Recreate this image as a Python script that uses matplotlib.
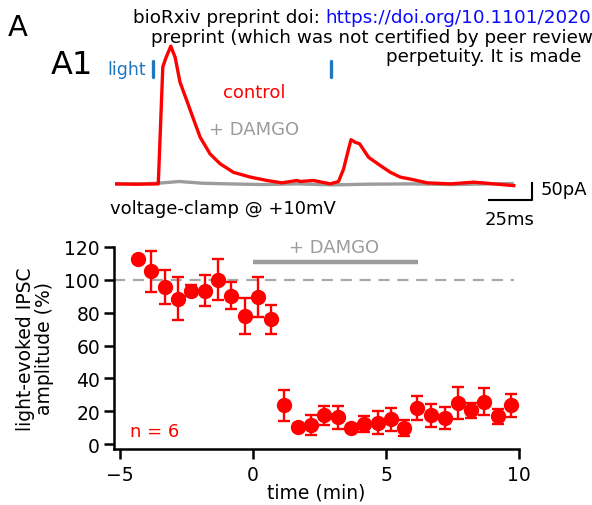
import matplotlib.pyplot as plt
import numpy as np

plt.rcParams['font.family'] = ['DejaVu Sans']

RED = '#ff0000'
GRAY = '#9c9c9c'
BLUE = '#1f77c0'

# --- trace data (ms, pA) ---
ctrl_t = [0, 12, 24.9, 27.5, 29.4, 32.1, 34.6, 37.4, 41.3, 45.1, 49.0, 54.7, 60.5,
          68.1, 77.8, 87.4, 96.0, 104.7, 106.6, 114.2, 123.8, 128.6, 131.5, 134.4,
          135.8, 138.2, 140.7, 145.9, 152.6, 158.4, 164.1, 171.8, 179.5, 193,
          206.4, 217.9, 229.4]
ctrl_i = [0, -1, 0, 344, 372, 405, 372, 299, 245, 191, 137, 88, 59,
          34, 20, 10, 3, 10, 7, 10, 0, 7, 44, 103,
          130, 122, 118, 78, 54, 34, 20, 12, 3, 0,
          5, 0, -5]
damgo_t = [0, 15, 25, 37, 50, 65, 85, 105, 125, 145, 170, 195, 215, 229.4]
damgo_i = [0, 0, 2, 7, 2, 0, -2, 0, -3, -1, 0, -2, 0, 1]
light_t = [21.7, 124.4]

# --- time course data ---
tmin = [-4.34, -3.82, -3.33, -2.82, -2.32, -1.82, -1.33, -0.82, -0.30, 0.20, 0.69,
        1.17, 1.69, 2.19, 2.68, 3.18, 3.67, 4.19, 4.68, 5.17, 5.68, 6.18, 6.69,
        7.20, 7.69, 8.20, 8.70, 9.21, 9.71]
amp = [112.4, 105.2, 95.6, 88.4, 93.5, 93.3, 100.1, 90.3, 78.2, 89.4, 75.9,
       23.6, 10.3, 11.5, 17.4, 16.2, 9.8, 12.3, 12.9, 15.0, 9.8, 21.9, 17.4,
       16.0, 25.0, 20.5, 25.8, 17.0, 23.6]
err = [1.5, 12.3, 10.6, 13.1, 3.5, 9.4, 12.6, 8.2, 11.0, 12.3, 8.8,
       9.6, 2.0, 6.0, 6.0, 7.0, 2.0, 5.0, 7.0, 7.0, 5.0, 7.3, 6.8,
       6.8, 9.6, 4.5, 8.2, 4.5, 7.0]

fig = plt.figure(figsize=(5.92, 5.06), dpi=100)
W, H = 592, 506

def px_axes(l, t, r, b):
    return fig.add_axes([l / W, 1 - b / H, (r - l) / W, (b - t) / H])

# ---------- header texts ----------
fig.text(8 / W, 1 - 28 / H, 'A', fontsize=21, va='center')
fig.text(51 / W, 1 - 65 / H, 'A1', fontsize=23, va='center')
t1 = fig.text(133 / W, 1 - 18 / H, 'bioRxiv preprint doi: ', fontsize=13.2, va='center')
fig.canvas.draw()
bb = t1.get_window_extent()
fig.text(bb.x1 / W, 1 - 18 / H, 'https://doi.org/10.1101/2020', fontsize=13.2,
         va='center', color='#0a0aff')
fig.text(372 / W, 1 - 38 / H, 'preprint (which was not certified by peer review',
         fontsize=13.2, va='center', ha='center')
fig.text(484 / W, 1 - 57 / H, 'perpetuity. It is made',
         fontsize=13.2, va='center', ha='center')

# ---------- traces ----------
ax1 = px_axes(115, 40, 560, 225)
ax1.set_xlim(0, 256)
ax1.set_ylim(-118, 426)
ax1.axis('off')
ax1.plot(damgo_t, damgo_i, color=GRAY, lw=2.4, solid_capstyle='butt')
ax1.plot(ctrl_t, ctrl_i, color=RED, lw=2.4, solid_joinstyle='round')
for lt in light_t:
    ax1.plot([lt, lt], [315, 362], color=BLUE, lw=2.4, solid_capstyle='round')
ax1.text(17.9, 338, 'light', color=BLUE, fontsize=12.5, ha='right', va='center')
ax1.text(80, 270, 'control', color=RED, fontsize=13, ha='center', va='center')
ax1.text(80, 162, '+ DAMGO', color=GRAY, fontsize=13, ha='center', va='center')
ax1.text(62, -70, 'voltage-clamp @ +10mV', fontsize=13, ha='center', va='center')
# scale bars
ax1.plot([215, 240, 240], [-47, -47, 3], color='k', lw=1.5, clip_on=False)
ax1.text(245, -15, '50pA', fontsize=13, ha='left', va='center', clip_on=False)
ax1.text(227, -103, '25ms', fontsize=13, ha='center', va='center', clip_on=False)

# ---------- time course ----------
ax2 = px_axes(114, 248, 519, 450)
ax2.set_xlim(-5.23, 10)
ax2.set_ylim(-3, 120)
ax2.hlines(100, -5.23, 9.8, color='#a8a8a8', lw=1.6, linestyles=(0, (5, 3.5)))
ax2.errorbar(tmin, amp, yerr=err, fmt='o', color=RED, ms=10, elinewidth=1.7,
             capsize=4.5, capthick=1.7, clip_on=False, zorder=3)
ax2.plot([0, 6.2], [111, 111], color=GRAY, lw=3.2, solid_capstyle='butt', clip_on=False)
ax2.text(3.05, 119.7, '+ DAMGO', color=GRAY, fontsize=13, ha='center', va='center')
ax2.text(-4.62, 8, 'n = 6', color=RED, fontsize=13, ha='left', va='center')

for s in ['top', 'right']:
    ax2.spines[s].set_visible(False)
for s in ['left', 'bottom']:
    ax2.spines[s].set_linewidth(1.8)
ax2.set_xticks([-5, 0, 5, 10])
ax2.set_yticks([0, 20, 40, 60, 80, 100, 120])
ax2.tick_params(direction='out', length=7.5, width=1.8, labelsize=13.5)
ax2.tick_params(axis='x', pad=4)
ax2.tick_params(axis='y', pad=2.5)
ax2.set_xlabel('time (min)', fontsize=13.5, va='center')
ax2.xaxis.set_label_coords(0.5, -0.215)
ax2.set_ylabel('light-evoked IPSC\namplitude (%)', fontsize=13.5, va='center',
               linespacing=1.0)
ax2.yaxis.set_label_coords(-0.195, 0.5)

fig.savefig('out.png', dpi=100)
